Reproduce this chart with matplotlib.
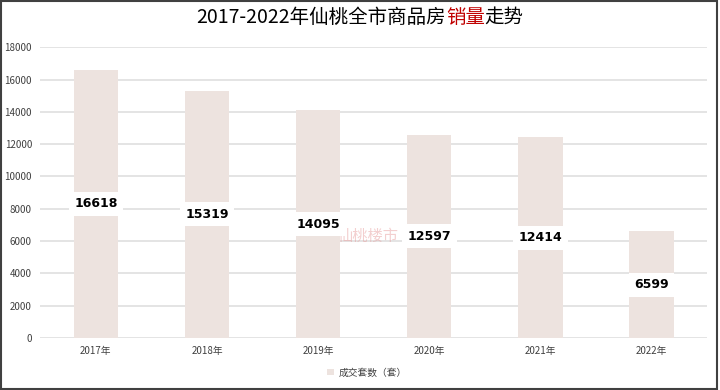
import matplotlib
matplotlib.use("Agg")
import matplotlib.pyplot as plt
from matplotlib.patches import Rectangle
import numpy as np

plt.rcParams['font.family'] = ['Noto Sans CJK SC', 'DejaVu Sans']

years = ['2017年', '2018年', '2019年', '2020年', '2021年', '2022年']
sales = [16618, 15319, 14095, 12597, 12414, 6599]
y_ticks = [0, 2000, 4000, 6000, 8000, 10000, 12000, 14000, 16000, 18000]

bar_color = '#ede3df'
grid_color = '#e2e2e2'

fig = plt.figure(figsize=(7.2, 3.9), dpi=100)
ax = fig.add_axes([0.056, 0.133, 0.926, 0.746])

x = np.arange(len(years))
ax.bar(x, sales, width=0.4, color=bar_color, zorder=2, label='成交套数（套）')
for xi, v in zip(x, sales):
    ax.text(xi, v / 2, str(v), ha='center', va='center', fontsize=9,
            fontweight='bold', family='DejaVu Sans', zorder=4,
            bbox=dict(facecolor='white', edgecolor='none', pad=4))

ax.set_xlim(-0.5, len(years) - 0.5)
ax.set_ylim(0, 18000)
ax.set_yticks(y_ticks)
ax.set_yticklabels([str(t) for t in y_ticks], fontsize=7, color='#404040')
ax.set_xticks(x)
ax.set_xticklabels(years, fontsize=7, color='#404040')
ax.tick_params(length=0, pad=6)
ax.yaxis.grid(True, color=grid_color, lw=1.3, zorder=0)
for s in ax.spines.values():
    s.set_visible(False)

# watermark
ax.text(2.45, 6300, '仙桃楼市', ha='center', va='center', fontsize=11,
        color='#e8a0a0', alpha=0.5, zorder=3)

leg = fig.legend(loc='center', bbox_to_anchor=(0.51, 0.045), frameon=False,
                 fontsize=7, handlelength=0.7, handleheight=0.7, handletextpad=0.5)
for t in leg.get_texts():
    t.set_color('#404040')

# title with red part
parts = [('2017-2022年仙桃全市商品房', 'black'), ('销量', '#c00000'), ('走势', 'black')]
fig.canvas.draw()
r = fig.canvas.get_renderer()
texts = []
widths = []
for s, c in parts:
    t = fig.text(0, 0.955, s, fontsize=14, color=c, va='center', ha='left')
    widths.append(t.get_window_extent(r).width)
    texts.append(t)
total = sum(widths)
xpos = 0.5 * fig.bbox.width - total / 2
for t, w in zip(texts, widths):
    t.set_x(xpos / fig.bbox.width)
    xpos += w

# outer frame
fig.patches.append(Rectangle((0.001, 0.002), 0.995, 0.996, transform=fig.transFigure,
                             fill=False, edgecolor='#404040', lw=1.5))

fig.savefig('out.png', dpi=100)
